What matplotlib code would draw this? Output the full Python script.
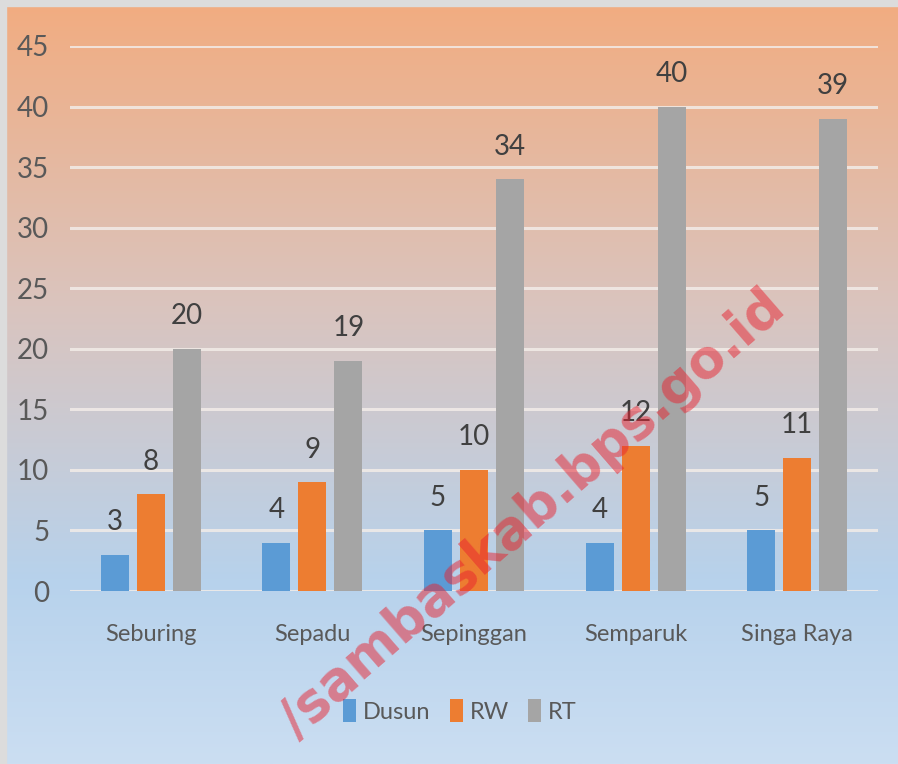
import numpy as np
import matplotlib
matplotlib.use("Agg")
import matplotlib.pyplot as plt
from matplotlib.colors import LinearSegmentedColormap
from matplotlib.patches import Rectangle

categories = ["Seburing", "Sepadu", "Sepinggan", "Semparuk", "Singa Raya"]
series_names = ["Dusun", "RW", "RT"]
dusun = [3, 4, 5, 4, 5]
rw = [8, 9, 10, 12, 11]
rt = [20, 19, 34, 40, 39]
yticks = [0, 5, 10, 15, 20, 25, 30, 35, 40, 45]
colors = ["#5B9BD5", "#ED7D31", "#A5A5A5"]

plt.rcParams['font.family'] = ['Lato', 'DejaVu Sans']

W, H = 898, 764
fig = plt.figure(figsize=(W / 100, H / 100), dpi=100)

# background gradient
bg = fig.add_axes([0, 0, 1, 1], zorder=-10)
grad_cmap = LinearSegmentedColormap.from_list(
    "bg",
    [(0.0, (242/255, 172/255, 128/255)),
     (0.40, (218/255, 196/255, 190/255)),
     (0.76, (183/255, 210/255, 236/255)),
     (1.0, (203/255, 222/255, 242/255))])
g = np.linspace(0, 1, 256).reshape(-1, 1)
bg.imshow(g, aspect='auto', cmap=grad_cmap, extent=[0, 1, 0, 1], origin='upper')
bg.add_patch(Rectangle((0, 1 - 6 / H), 1, 6 / H, color="#DCDCDC", transform=bg.transAxes))
bg.add_patch(Rectangle((0, 0), 6 / W, 1, color="#DCDCDC", transform=bg.transAxes))
bg.set_xlim(0, 1)
bg.set_ylim(0, 1)
bg.axis('off')

left, right = 70 / W, 878 / W
bottom, top = 1 - 591 / H, 1 - 46 / H
ax = fig.add_axes([left, bottom, right - left, top - bottom])
ax.set_facecolor('none')

x = np.arange(len(categories))
step = 0.223
width = 0.173
for i, (name, vals) in enumerate(zip(series_names, [dusun, rw, rt])):
    pos = x + (i - 1) * step
    ax.bar(pos, vals, width=width, color=colors[i], label=name, zorder=3)
    for px, v in zip(pos, vals):
        ax.annotate(str(v), (px, v), xytext=(0, 14), textcoords='offset points',
                    ha='center', va='bottom', fontsize=20, color='#404040', zorder=4)

ax.set_xlim(-0.5, len(categories) - 0.5)
ax.set_ylim(0, 45)
ax.set_yticks(yticks)
ax.set_yticklabels([str(t) for t in yticks])
ax.set_xticks(x)
ax.set_xticklabels(categories)
ax.tick_params(axis='y', length=0, pad=15, labelsize=20, labelcolor='#595959')
ax.tick_params(axis='x', length=0, pad=24, labelsize=17, labelcolor='#595959')
ax.grid(axis='y', color='#F2ECE8', linewidth=2.2, alpha=0.85, zorder=1)
for s in ax.spines.values():
    s.set_visible(False)

ax.legend(loc='center', bbox_to_anchor=(460 / W, 1 - 711 / H), bbox_transform=fig.transFigure,
          ncol=3, frameon=False, fontsize=17, handlelength=0.55, handleheight=1.1,
          handletextpad=0.3, columnspacing=0.8, labelcolor='#595959')

fig.text(788 / W, 1 - 312 / H, "/sambaskab.bps.go.id", rotation=41,
         rotation_mode='anchor', ha='right', va='baseline', fontsize=38,
         fontweight='bold', family=['DejaVu Sans'], color='#E8212E', alpha=0.5, zorder=20)

fig.savefig("out.png", dpi=100)
